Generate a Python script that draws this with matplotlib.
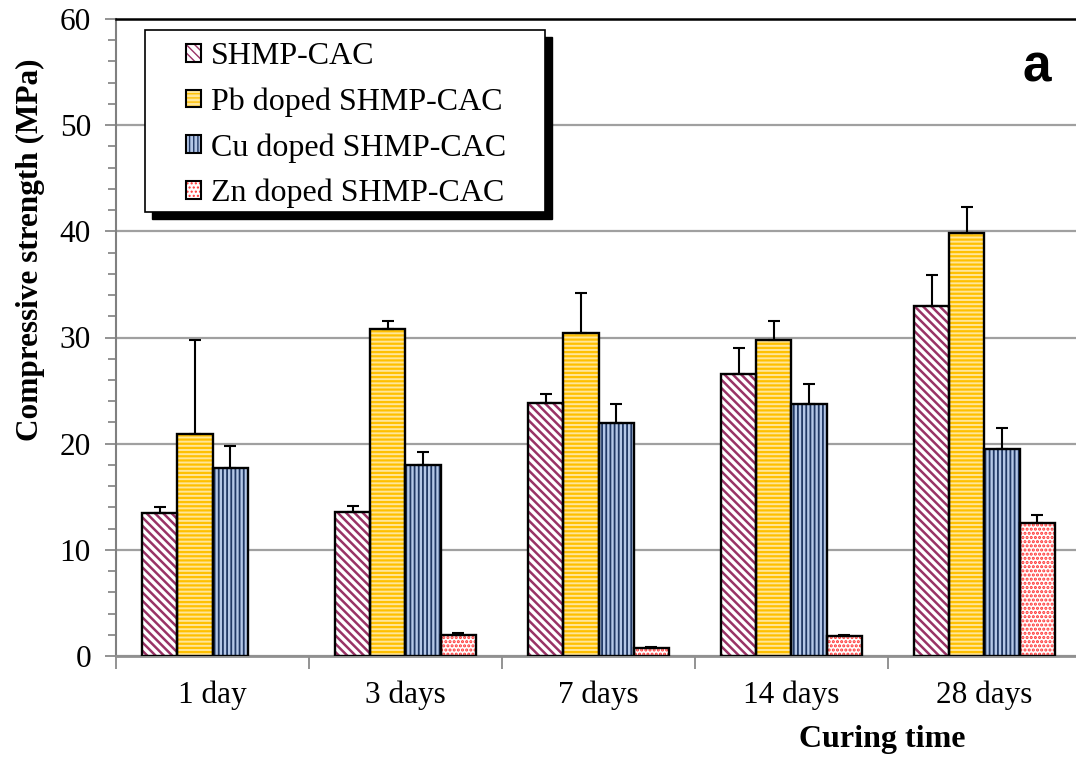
import matplotlib
matplotlib.use("Agg")
import matplotlib.pyplot as plt
import matplotlib.patches as mpatches
from matplotlib.legend_handler import HandlerTuple
import numpy as np

categories = ["1 day", "3 days", "7 days", "14 days", "28 days"]
series_names = ["SHMP-CAC", "Pb doped SHMP-CAC", "Cu doped SHMP-CAC", "Zn doped SHMP-CAC"]
shmp = [13.5, 13.6, 23.8, 26.6, 33.0]
shmp_err = [0.5, 0.5, 0.9, 2.4, 2.9]
pb = [20.9, 30.8, 30.4, 29.8, 39.8]
pb_err = [8.9, 0.8, 3.8, 1.8, 2.5]
cu = [17.7, 18.0, 21.9, 23.7, 19.5]
cu_err = [2.1, 1.2, 1.8, 1.9, 2.0]
zn = [0.0, 2.0, 0.75, 1.85, 12.5]
zn_err = [0.0, 0.2, 0.1, 0.1, 0.8]

values = [shmp, pb, cu, zn]
errors = [shmp_err, pb_err, cu_err, zn_err]
faces = ["white", "#FFE699", "#B4C7E7", "white"]
hcolors = ["#993366", "#FFC000", "#203864", "#FF3333"]
hatches = ["\\\\\\\\", "----", "||||", "...."]
hlws = [1.8, 1.6, 1.3, 1.5]

plt.rcParams['font.family'] = ['Liberation Serif', 'DejaVu Serif']

fig = plt.figure(figsize=(10.76, 7.6), dpi=100)
ax = fig.add_axes([116/1076, (760-656)/760, 965/1076, 637/760])

x = np.arange(len(categories))
w = 0.183
handles = []
for i in range(4):
    xs = x + (i - 1.5) * w
    v = np.array(values[i])
    e = np.array(errors[i])
    m = v > 0
    with plt.rc_context({'hatch.linewidth': hlws[i]}):
        ax.bar(xs[m], v[m], w, color=faces[i], edgecolor=hcolors[i], hatch=hatches[i],
               linewidth=0, zorder=3)
        ph = mpatches.Patch(facecolor=faces[i], edgecolor=hcolors[i], hatch=hatches[i], linewidth=0)
    ax.bar(xs[m], v[m], w, fill=False, edgecolor="black", linewidth=1.7, zorder=4)
    ax.errorbar(xs[m], v[m], yerr=[np.zeros(m.sum()), e[m]], fmt="none", ecolor="black",
                elinewidth=1.5, capsize=4.5, capthick=1.5, zorder=5)
    po = mpatches.Patch(fill=False, edgecolor="black", linewidth=1.5)
    handles.append((ph, po))

ax.set_xlim(-0.5, 4.5)
ax.set_ylim(0, 60)
ax.set_yticks(np.arange(0, 61, 10))
ax.set_yticks(np.arange(0, 61, 2), minor=True)
ax.set_xticks(x)
ax.set_xticklabels(categories, fontsize=22.5)
ax.set_xticks(np.arange(-0.5, 5.0, 1.0), minor=True)
ax.tick_params(axis='x', which='major', length=0, pad=18)
ax.tick_params(axis='x', which='minor', length=9, width=1.2, color="#808080", direction='out')
ax.tick_params(axis='y', which='major', length=8, width=1.2, color="#808080", labelsize=22.5, pad=10)
ax.tick_params(axis='y', which='minor', length=6, width=1.2, color="#808080")
ax.yaxis.grid(True, which='major', color="#A0A0A0", linewidth=1.6, zorder=0)
ax.set_axisbelow(True)
ax.spines["right"].set_visible(False)
ax.spines["top"].set_color("black")
ax.spines["top"].set_linewidth(1.8)
ax.spines["left"].set_color("#808080")
ax.spines["left"].set_linewidth(1.5)
ax.spines["bottom"].set_color("#909090")
ax.spines["bottom"].set_linewidth(2)

fig.text(30/1076, 1-250/760, "Compressive strength (MPa)", rotation=90, fontsize=22.5,
         fontweight='bold', ha='center', va='center')
fig.text(882/1076, 1-740/760, "Curing time", fontsize=23, fontweight='bold',
         ha='center', va='center')
fig.text(1037/1076, 1-68/760, "a", fontsize=37, fontweight='bold',
         family=['Liberation Sans', 'DejaVu Sans'], ha='center', va='center')

# legend frame with shadow
shadow = mpatches.Rectangle((152/1076, 1-219/760), 400/1076, 182/760, transform=fig.transFigure,
                            facecolor="black", edgecolor="black", zorder=10)
frame = mpatches.Rectangle((145/1076, 1-212/760), 400/1076, 182/760, transform=fig.transFigure,
                           facecolor="white", edgecolor="black", linewidth=1.2, zorder=11)
fig.patches.extend([shadow, frame])

leg = fig.legend(handles, series_names, loc='upper left',
                 bbox_to_anchor=(186/1076, 1-42/760), frameon=False, fontsize=23,
                 handlelength=0.48, handleheight=0.48, handletextpad=0.3, labelspacing=0.51,
                 borderpad=0, borderaxespad=0,
                 handler_map={tuple: HandlerTuple(ndivide=1, pad=0)})
leg.set_zorder(12)

fig.savefig("out.png", dpi=100)
